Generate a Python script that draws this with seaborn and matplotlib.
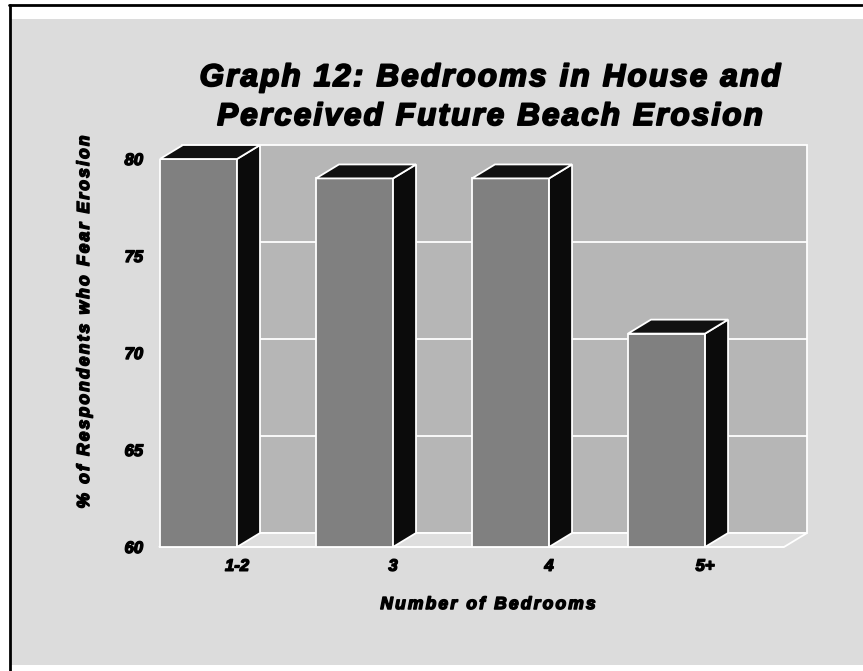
import numpy as np
import pandas as pd
import matplotlib
matplotlib.use("Agg")
import matplotlib.pyplot as plt
import seaborn as sns
from matplotlib.patches import Polygon, Rectangle
from matplotlib.lines import Line2D
from matplotlib import font_manager
from matplotlib import patheffects
from matplotlib.ft2font import FT2Font
from matplotlib.transforms import ScaledTranslation

# ---- data -------------------------------------------------------------
categories = ["1-2", "3", "4", "5+"]
fear_pct = [80, 79, 79, 71]
y_ticks = [60, 65, 70, 75, 80]
title_lines = ["Graph 12: Bedrooms in House and", "Perceived Future Beach Erosion"]
x_title = "Number of Bedrooms"
y_title = "% of Respondents who Fear Erosion"

# ---- styling constants -------------------------------------------------
W, H, DPI = 863, 671, 100
BAR_W = 0.494           # bar width in category units
DX, DY = 0.1474, 0.72   # 3-D depth offset (x in category units, y in %)
X_LO, X_HI = -0.253, 3.753
Y_LO, Y_HI = 60, 80

FRONT = "#808080"
SIDE = "#0b0b0b"
TOP = "#111111"
WALL = "#b6b6b6"
FLOOR = "#dedede"
PAGE = "#dcdcdc"

sns.set_theme(style="white")
plt.rcParams["font.family"] = ["Liberation Sans", "DejaVu Sans"]

fig = plt.figure(figsize=(W / DPI, H / DPI), dpi=DPI)
fig.patch.set_facecolor("white")


def fx(px):
    return px / W


def fy(py):
    return 1 - py / H


def heavy(lw):
    # thickens the bold glyphs into a black-weight look
    return [patheffects.withStroke(linewidth=lw, foreground="black")]


# page panel with its black top/left rule
fig.add_artist(Rectangle((fx(11), fy(665)), fx(863) - fx(11), fy(19) - fy(665),
                         transform=fig.transFigure, facecolor=PAGE,
                         edgecolor="none", zorder=-2))
fig.add_artist(Line2D([fx(9), fx(862)], [fy(5), fy(5)], color="black",
                      lw=2.0, transform=fig.transFigure, zorder=-1))
fig.add_artist(Line2D([fx(10), fx(10)], [fy(5), fy(671)], color="black",
                      lw=2.0, transform=fig.transFigure, zorder=-1))

# ---- letter-spaced bold italic text ----------------------------------
FONT_PATH = font_manager.findfont(
    font_manager.FontProperties(family="Liberation Sans", weight="bold", style="italic"))
try:
    from matplotlib.ft2font import LoadFlags
    NO_HINT = LoadFlags.NO_HINTING
except ImportError:
    from matplotlib.ft2font import LOAD_NO_HINTING as NO_HINT


def advances(s, size):
    ft = FT2Font(FONT_PATH)
    ft.set_size(size, 72)
    return [ft.load_char(ord(ch), flags=NO_HINT).linearHoriAdvance / 65536 for ch in s]


def spaced_text(x_px, y_px, s, size, track_pt, rotation=0, stroke=1.2):
    adv = advances(s, size)
    total = sum(adv) + track_pt * (len(s) - 1)
    th = np.deg2rad(rotation)
    c, si = np.cos(th), np.sin(th)
    pos = -total / 2
    for ch, a in zip(s, adv):
        if ch != " ":
            off = ScaledTranslation(pos * c / 72, pos * si / 72, fig.dpi_scale_trans)
            fig.text(fx(x_px), fy(y_px), ch, transform=fig.transFigure + off,
                     fontsize=size, fontweight="bold", fontstyle="italic",
                     family="Liberation Sans", rotation=rotation,
                     rotation_mode="anchor", ha="left", va="baseline", color="black",
                     path_effects=heavy(stroke))
        pos += a + track_pt


# ---- chart ------------------------------------------------------------
ax = fig.add_axes([fx(159), fy(547), fx(784) - fx(159), fy(159) - fy(547)])
ax.set_facecolor("none")

df = pd.DataFrame({"bedrooms": categories, "pct": fear_pct})
sns.barplot(data=df, x="bedrooms", y="pct", order=categories, color=FRONT,
            saturation=1, width=BAR_W, edgecolor="white", linewidth=1.3,
            ax=ax, zorder=3)

ax.set_xlim(X_LO, X_HI)
ax.set_ylim(Y_LO, Y_HI)
for sp in ax.spines.values():
    sp.set_visible(False)

# back wall with its grid
wall = Polygon([(X_LO + DX, Y_LO + DY), (X_HI + DX, Y_LO + DY),
                (X_HI + DX, Y_HI + DY), (X_LO + DX, Y_HI + DY)],
               closed=True, facecolor=WALL, edgecolor="white", lw=1.3,
               clip_on=False, zorder=0.5)
ax.add_patch(wall)
for v in y_ticks[1:-1]:
    ax.plot([X_LO + DX, X_HI + DX], [v + DY, v + DY], color="white", lw=1.3,
            clip_on=False, zorder=0.7, solid_capstyle="butt")

# floor
floor = Polygon([(X_LO, Y_LO), (X_HI, Y_LO), (X_HI + DX, Y_LO + DY), (X_LO + DX, Y_LO + DY)],
                closed=True, facecolor=FLOOR, edgecolor="white", lw=1.3,
                clip_on=False, zorder=0.6)
ax.add_patch(floor)

# side and top faces of each bar, built from the drawn bar rectangles
for p in list(ax.patches):
    if not hasattr(p, "get_width") or p in (wall, floor):
        continue
    x0, w = p.get_x(), p.get_width()
    top = p.get_y() + p.get_height()
    side = Polygon([(x0 + w, Y_LO), (x0 + w + DX, Y_LO + DY),
                    (x0 + w + DX, top + DY), (x0 + w, top)],
                   closed=True, facecolor=SIDE, edgecolor="white", lw=1.3,
                   clip_on=False, zorder=3.5)
    lid = Polygon([(x0, top), (x0 + w, top), (x0 + w + DX, top + DY), (x0 + DX, top + DY)],
                  closed=True, facecolor=TOP, edgecolor="white", lw=1.3,
                  clip_on=False, zorder=3.6)
    ax.add_patch(side)
    ax.add_patch(lid)

ax.plot([X_LO, X_HI], [Y_LO, Y_LO], color="white", lw=1.3, clip_on=False,
        zorder=4, solid_capstyle="butt")

# ticks
ax.set_yticks(y_ticks)
ax.set_yticklabels([str(v) for v in y_ticks])
ax.set_xticks([i + BAR_W / 2 for i in range(len(categories))])
ax.set_xticklabels(categories)
ax.tick_params(axis="y", length=0, pad=11.5, labelsize=12)
ax.tick_params(axis="x", length=0, pad=8.5, labelsize=12)
for lab in ax.get_xticklabels() + ax.get_yticklabels():
    lab.set_fontweight("bold")
    lab.set_fontstyle("italic")
    lab.set_color("black")
    lab.set_path_effects(heavy(1.0))
ax.set_xlabel("")
ax.set_ylabel("")

# titles and axis titles
spaced_text(490, 86, title_lines[0], 22.5, 1.6, stroke=1.4)
spaced_text(490, 125, title_lines[1], 22.5, 1.6, stroke=1.4)
spaced_text(488, 609, x_title, 12.5, 1.6, stroke=1.1)
spaced_text(89, 322, y_title, 12.5, 1.6, rotation=90, stroke=1.1)

fig.savefig("out.png", dpi=DPI)
